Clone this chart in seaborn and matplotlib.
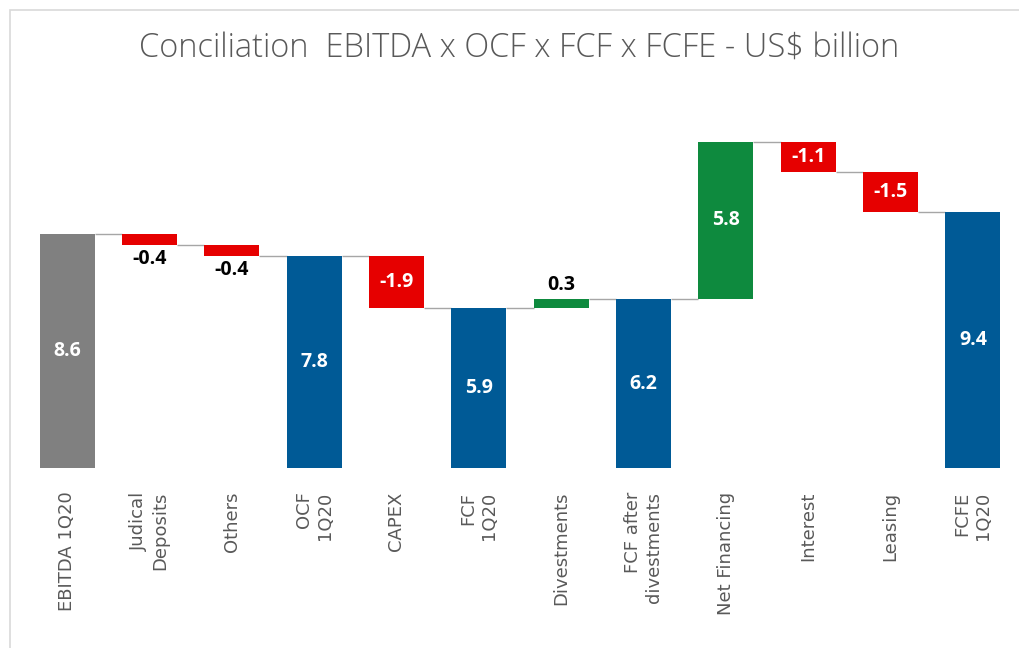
import numpy as np
import pandas as pd
import matplotlib
matplotlib.use("Agg")
import matplotlib.pyplot as plt
from matplotlib.patches import Rectangle
import seaborn as sns

# data
categories = ['EBITDA 1Q20', 'Judical\nDeposits', 'Others', 'OCF\n1Q20', 'CAPEX',
              'FCF\n1Q20', 'Divestments', 'FCF after\ndivestments', 'Net Financing',
              'Interest', 'Leasing', 'FCFE\n1Q20']
values = [8.6, -0.4, -0.4, 7.8, -1.9, 5.9, 0.3, 6.2, 5.8, -1.1, -1.5, 9.4]
kinds = ['start', 'step', 'step', 'total', 'step', 'total', 'step', 'total',
         'step', 'step', 'step', 'total']

COLORS = {'start': '#808080', 'total': '#005A96', 'neg': '#E60000', 'pos': '#0E8A3E'}

# waterfall geometry
bottoms, heights, levels, colors = [], [], [], []
run = 0.0
for v, k in zip(values, kinds):
    if k in ('start', 'total'):
        run = v
        bottoms.append(0.0)
        heights.append(v)
        colors.append(COLORS[k])
    else:
        new = run + v
        bottoms.append(min(run, new))
        heights.append(abs(v))
        colors.append(COLORS['neg'] if v < 0 else COLORS['pos'])
        run = new
    levels.append(run)

df = pd.DataFrame({'cat': categories, 'height': heights, 'bottom': bottoms})

sns.set_style("white")
plt.rcParams['font.family'] = ['Open Sans', 'DejaVu Sans']

fig = plt.figure(figsize=(10.19, 6.48), dpi=100)
ax = fig.add_axes([26 / 1019, 1 - 468 / 648, (1014 - 26) / 1019, (468 - 128) / 648])

W = 0.67
sns.barplot(data=df, x='cat', y='height', bottom=df['bottom'].values, width=W,
            errorbar=None, color='#808080', ax=ax, zorder=3)
for p, c in zip(ax.patches, colors):
    p.set_facecolor(c)
    p.set_edgecolor('none')

# connector lines
for i in range(len(values) - 1):
    ax.hlines(levels[i], i + W / 2, i + 1 - W / 2, color='#a6a6a6', lw=1.0, zorder=2)

# value labels
for i, (v, b, h, k) in enumerate(zip(values, bottoms, heights, kinds)):
    txt = f"{v:.1f}"
    if h >= 0.6:
        ax.text(i, b + h / 2, txt, ha='center', va='center', color='white',
                fontsize=14, fontweight='bold', zorder=4)
    elif v < 0:
        ax.text(i, b - 0.15, txt, ha='center', va='top', color='black',
                fontsize=14, fontweight='bold', zorder=4)
    else:
        ax.text(i, b + h + 0.15, txt, ha='center', va='bottom', color='black',
                fontsize=14, fontweight='bold', zorder=4)

ax.set_ylim(0, 12.5)
ax.set_xlim(-0.5, len(values) - 0.5)
ax.set_xlabel('')
ax.set_ylabel('')
ax.set_yticks([])
ax.set_xticks(range(len(categories)), categories, rotation=90, fontsize=13,
              color='#595959', multialignment='right', family='DejaVu Sans')
ax.tick_params(axis='x', length=0, pad=17)
sns.despine(ax=ax, left=True, bottom=True)

fig.text(519 / 1019, 1 - 48 / 648, 'Conciliation  EBITDA x OCF x FCF x FCFE - US$ billion',
         ha='center', va='center', fontsize=23.5, color='#595959', fontweight='light')

# light frame around the chart area
fig.patches.append(Rectangle((10 / 1019, -0.01), 1.0, 1 - 10 / 648 + 0.01,
                             transform=fig.transFigure, fill=False,
                             edgecolor='#d9d9d9', lw=1.2))

fig.savefig('out.png', dpi=100)
